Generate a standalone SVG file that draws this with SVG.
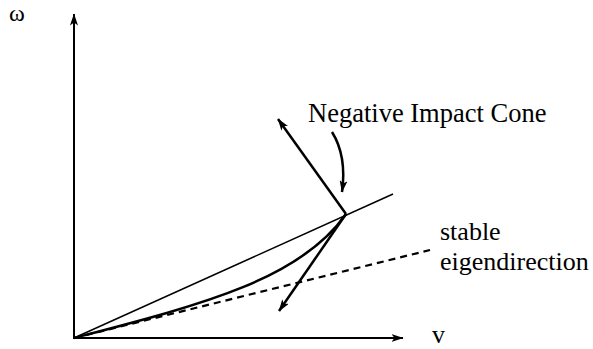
<svg xmlns="http://www.w3.org/2000/svg" width="593" height="349" viewBox="0 0 593 349">
<style>
  .ln { fill: none; stroke: #000; stroke-linecap: butt; }
  .lbl { font-family: 'Liberation Serif', 'DejaVu Serif', serif; fill: #000; }
</style>
<defs>
  <marker id="ah" viewBox="0 0 12 8" refX="11.5" refY="4" markerWidth="12" markerHeight="8" markerUnits="userSpaceOnUse" orient="auto">
    <path d="M0,0 L12,4 L0,8 L3,4 z" fill="#000"/>
  </marker>
</defs>
<rect width="593" height="349" fill="#fff"/>
<g id="connectors">
  <line id="axis-w" class="ln" x1="74" y1="339" x2="74" y2="14" stroke-width="2" marker-end="url(#ah)"/>
  <line id="axis-v" class="ln" x1="73" y1="338" x2="403" y2="338" stroke-width="2" marker-end="url(#ah)"/>
  <line id="cone-line" class="ln" x1="74" y1="338" x2="393" y2="194" stroke-width="1.5"/>
  <line id="stable-dir" class="ln" x1="74" y1="338" x2="430" y2="250" stroke-width="2.2" stroke-dasharray="7,5"/>
  <path id="trajectory" class="ln" d="M74,338 C200,305 300,280 346,214" stroke-width="2.5"/>
  <line id="arrow-up" class="ln" x1="346" y1="214" x2="278" y2="119" stroke-width="2.5" marker-end="url(#ah)"/>
  <line id="arrow-down" class="ln" x1="346" y1="214" x2="279" y2="311" stroke-width="2.5" marker-end="url(#ah)"/>
  <path id="label-pointer" class="ln" d="M332,132 Q347,156 342,192" stroke-width="2.5" marker-end="url(#ah)"/>
</g>
<g id="label-omega"><text class="lbl" x="9" y="21" font-size="24" font-family="Liberation Serif, serif">ω</text></g>
<g id="label-v"><text class="lbl" x="432" y="343" font-size="26" font-family="Liberation Serif, serif">v</text></g>
<g id="label-cone"><text class="lbl" x="308" y="122" font-size="26.5" font-family="Liberation Serif, serif">Negative Impact Cone</text></g>
<g id="label-stable">
  <text class="lbl" x="440" y="240" font-size="26" font-family="Liberation Serif, serif">stable</text>
  <text class="lbl" x="440" y="270" font-size="26" font-family="Liberation Serif, serif">eigendirection</text>
</g>
</svg>
